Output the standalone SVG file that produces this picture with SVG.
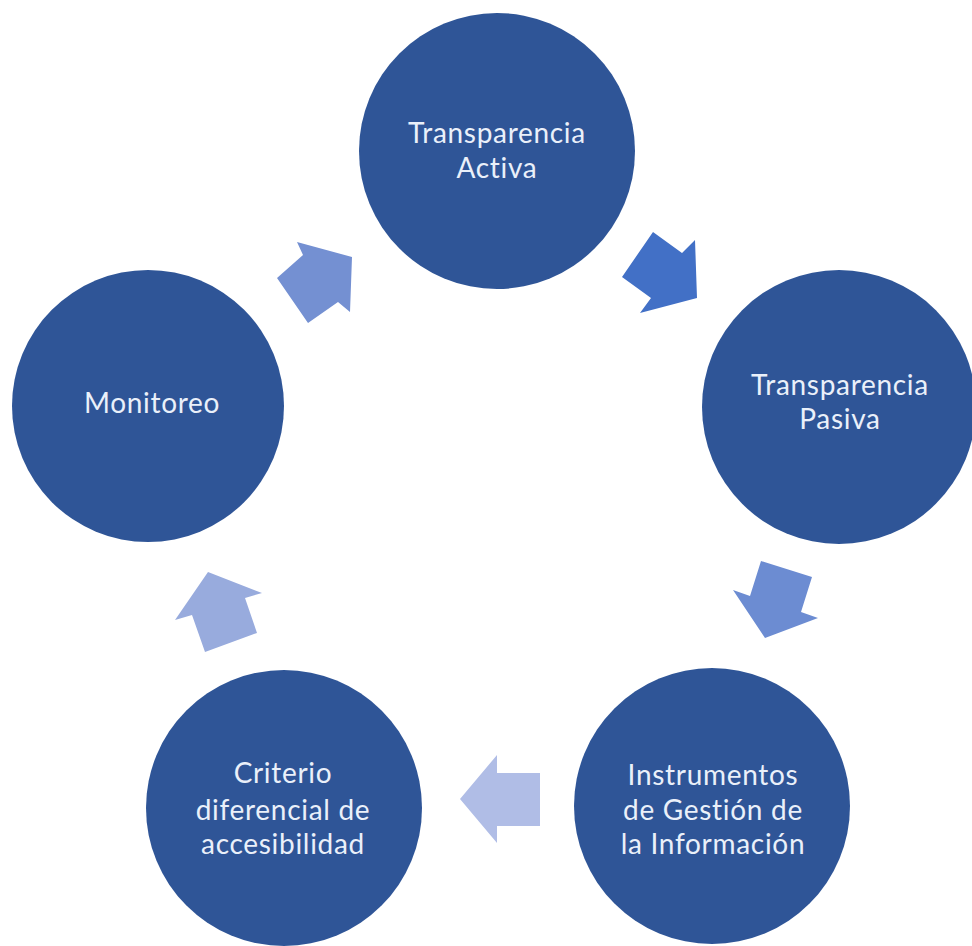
<svg xmlns="http://www.w3.org/2000/svg" width="972" height="946" viewBox="0 0 972 946">
  <style>
    .node { fill: #2F5597; }
    .label { font-family: Lato, "Open Sans", "Liberation Sans", sans-serif; font-size: 28px; letter-spacing: 0.7px; font-variant-ligatures: none; fill: #EAF0FA; text-anchor: middle; }
  </style>
  <rect width="972" height="946" fill="#FFFFFF"/>

  <!-- cycle connectors -->
  <g id="connectors">
    <polygon id="a-activa-pasiva" fill="#4270C6" points="622,277 653,232 682,253 695,240 697,298 640,313 651,298"/>
    <polygon id="a-pasiva-instrumentos" fill="#6C8CD2" points="761,561 812,577 801,612 818,618 765,638 733,590 750,596"/>
    <polygon id="a-instrumentos-criterio" fill="#B0BDE6" points="540,773 540,826 497,826 497,843 460,799 497,755 497,773"/>
    <polygon id="a-criterio-monitoreo" fill="#98ABDD" points="205,652 257,633 245,598 262,593 208,572 175,620 192,615"/>
    <polygon id="a-monitoreo-activa" fill="#7490D2" points="277,278 308,323 338,302 350,312 352,257 297,242 303,255"/>
  </g>

  <g id="n-activa">
    <circle class="node" cx="497" cy="151" r="138"/>
    <text class="label" x="497" y="143">Transparencia</text>
    <text class="label" x="497" y="178">Activa</text>
  </g>

  <g id="n-pasiva">
    <circle class="node" cx="839" cy="407" r="137"/>
    <text class="label" x="840" y="395">Transparencia</text>
    <text class="label" x="840" y="429">Pasiva</text>
  </g>

  <g id="n-instrumentos">
    <circle class="node" cx="712" cy="806" r="138"/>
    <text class="label" x="713" y="785">Instrumentos</text>
    <text class="label" x="713" y="820">de Gestión de</text>
    <text class="label" x="713" y="854">la Información</text>
  </g>

  <g id="n-criterio">
    <circle class="node" cx="284" cy="808" r="138"/>
    <text class="label" x="283" y="783">Criterio</text>
    <text class="label" x="283" y="820">diferencial de</text>
    <text class="label" x="283" y="854">accesibilidad</text>
  </g>

  <g id="n-monitoreo">
    <circle class="node" cx="148" cy="406" r="136"/>
    <text class="label" x="152" y="413">Monitoreo</text>
  </g>
</svg>
